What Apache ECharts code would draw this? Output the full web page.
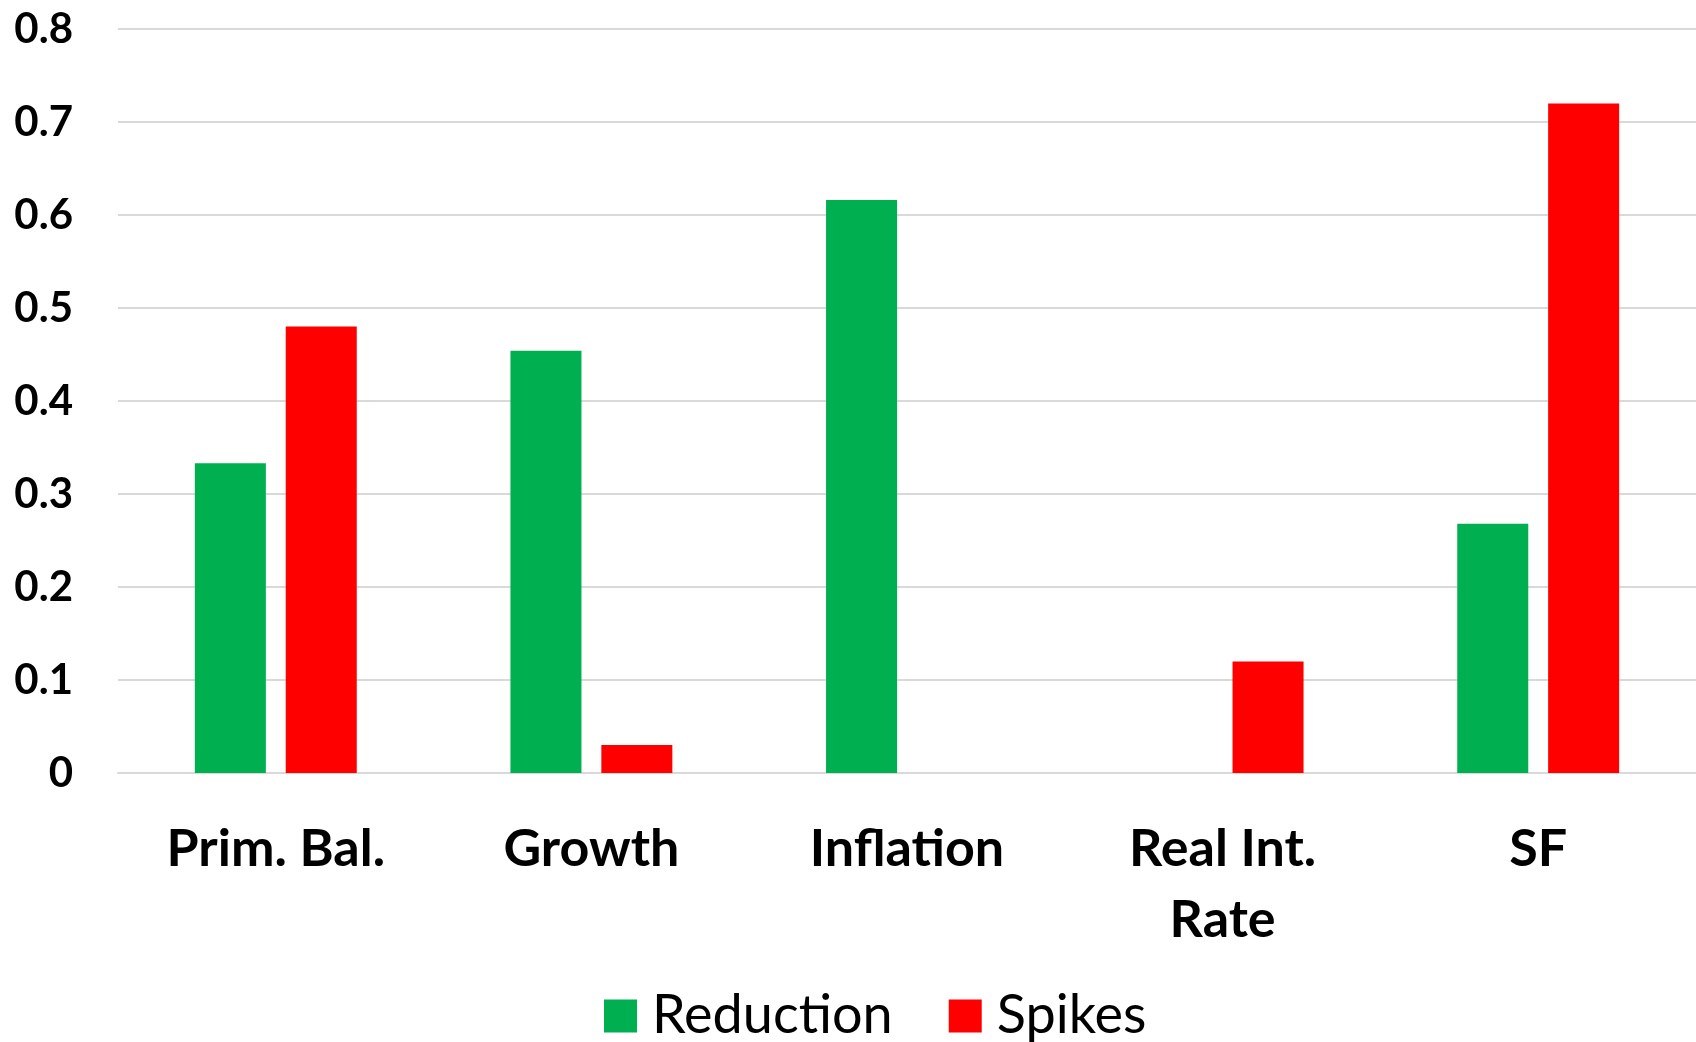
<!DOCTYPE html>
<html>
<head>
<meta charset="utf-8">
<title>Reduction vs Spikes</title>
<script src="https://cdn.jsdelivr.net/npm/echarts@6/dist/echarts.min.js"></script>
<style>
	html, body { margin: 0; padding: 0; background: #fff; }
	#main { width: 1696px; height: 1042px; }
</style>
</head>
<body>
<div id="main"></div>
<script>
	// categories and values
	var categories = ['Prim. Bal.', 'Growth', 'Inflation', 'Real Int.\nRate', 'SF'];
	var reduction = [0.333, 0.454, 0.616, null, 0.268];
	var spikes = [0.48, 0.03, null, 0.12, 0.72];
	var yTicks = [0, 0.1, 0.2, 0.3, 0.4, 0.5, 0.6, 0.7, 0.8];

	var green = '#00B050',
		red = '#FF0000',
		gridColor = '#D9D9D9';

	var mychart = echarts.init(document.getElementById('main'));
	var option = {
		animation: false,
		backgroundColor: '#fff',
		grid: {
			left: 118,
			right: 0,
			top: 29,
			bottom: 269,
			containLabel: false
		},
		legend: {
			left: 599,
			top: 984,
			itemWidth: 33,
			itemHeight: 33,
			itemGap: 56,
			icon: 'rect',
			textStyle: {
				fontFamily: 'Lato',
				fontSize: 54,
				color: '#000',
				padding: [0, 0, 0, 10]
			},
			data: ['Reduction', 'Spikes']
		},
		xAxis: {
			type: 'category',
			data: categories,
			axisTick: { show: false },
			axisLine: { show: true, lineStyle: { color: gridColor, width: 2 } },
			axisLabel: {
				interval: 0,
				margin: 41,
				fontFamily: 'Lato',
				fontWeight: 'bold',
				fontSize: 52,
				lineHeight: 71,
				color: '#000'
			}
		},
		yAxis: {
			type: 'value',
			min: yTicks[0],
			max: yTicks[yTicks.length - 1],
			interval: 0.1,
			axisLine: { show: false },
			axisTick: { show: false },
			splitLine: { lineStyle: { color: gridColor, width: 2 } },
			axisLabel: {
				margin: 45,
				fontFamily: 'Lato',
				fontWeight: 'bold',
				fontSize: 42,
				color: '#000',
				formatter: function (v) {
					return String(Math.round(v * 10) / 10);
				}
			}
		},
		series: [
			{
				name: 'Reduction',
				type: 'bar',
				data: reduction,
				barWidth: '22.5%',
				barGap: '28%',
				itemStyle: { color: green }
			},
			{
				name: 'Spikes',
				type: 'bar',
				data: spikes,
				barWidth: '22.5%',
				itemStyle: { color: red }
			}
		]
	};
	mychart.setOption(option);
</script>
</body>
</html>
